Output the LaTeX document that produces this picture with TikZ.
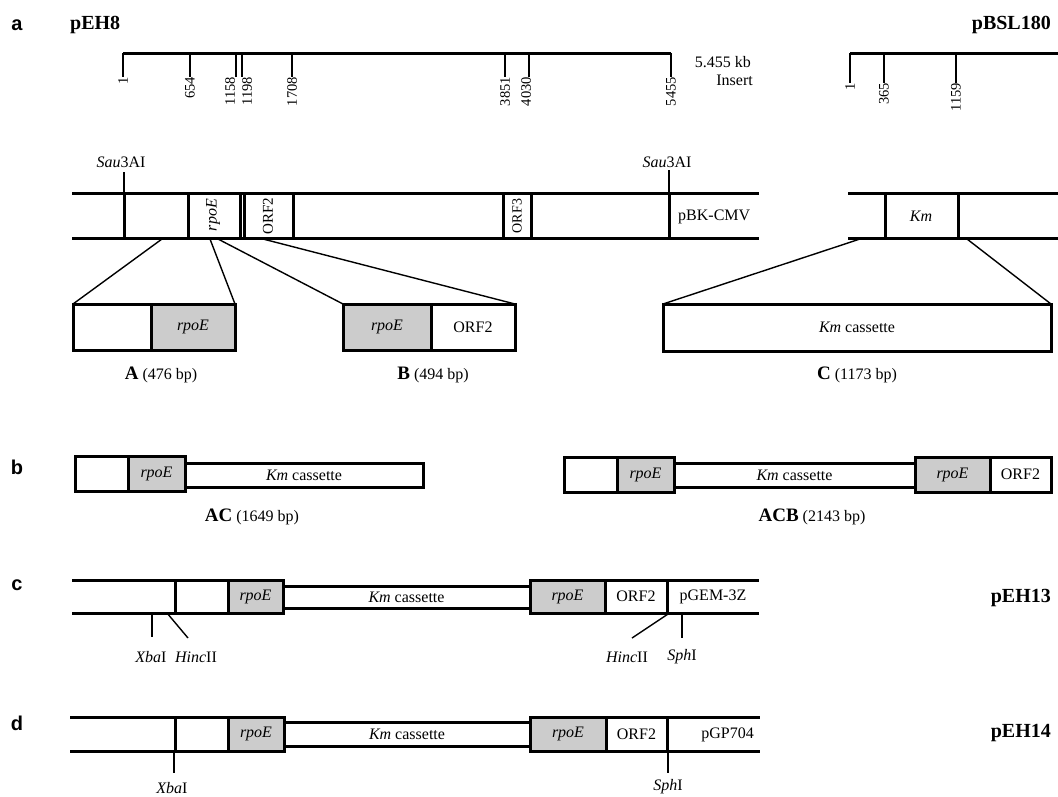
\documentclass[tikz,border=0pt]{standalone}
\usepackage{fontspec}
\setmainfont{Liberation Serif}
\newfontfamily\helvfont{Liberation Sans}
\newcommand\segrect[7]{\node[#6, minimum width={(#4-#2)*1pt}, minimum height={(#5-#3)*1pt}] (#1) at ({(#2+#4)/2},{(#3+#5)/2}) {#7};}
\begin{document}
\begin{tikzpicture}[x=1pt,y=-1pt,
  panel/.style={font=\helvfont\bfseries\fontsize{20}{20}\selectfont, inner sep=0},
  title/.style={font=\bfseries\fontsize{20}{20}\selectfont, inner sep=0},
  lbl/.style={font=\fontsize{16}{18}\selectfont, inner sep=0},
  num/.style={font=\fontsize{14.5}{14.5}\selectfont, inner sep=0, rotate=90, anchor=east},
  strand/.style={line width=3pt},
  tickline/.style={line width=2pt},
  thinline/.style={line width=1.4pt},
  seg/.style={draw, line width=3pt, inner sep=0, outer sep=0, font=\fontsize{16}{18}\selectfont},
  gene/.style={seg, fill=black!20},
]
\fill[white] (0,0) rectangle (1058,796);
\useasboundingbox (0,0) rectangle (1058,796);

% panel letters and titles
\node[panel] (pa) at (17,25) {a};
\node[panel] (pb) at (17,467) {b};
\node[panel] (pc) at (17,585) {c};
\node[panel] (pd) at (17,723) {d};
\node[title, anchor=west] (tEH8) at (70,25) {pEH8};
\node[title, anchor=east] (tBSL) at (1051,25) {pBSL180};
\node[title, anchor=east] (tEH13) at (1051,598) {pEH13};
\node[title, anchor=east] (tEH14) at (1051,733) {pEH14};

% scale bars
\coordinate (s0) at (123,53); \coordinate (s1) at (671,53);
\draw[strand] (s0) -- (s1);
\foreach \x/\lx/\t in {123/123/1, 190/190/654, 236/230/1158, 242/247/1198, 292/292/1708, 505/505/3851, 529/526/4030, 671/671/5455}{
  \draw[tickline] (\x,53) -- (\x,77);
  \node[num] (n\t) at (\lx,77) {\t};
}
\node[lbl, anchor=east] (kb) at (751,62) {5.455 kb};
\node[lbl, anchor=east] (ins) at (753,80) {Insert};
\coordinate (b0) at (850,53); \coordinate (b1) at (1058,53);
\draw[strand] (b0) -- (b1);
\foreach \x/\t in {850/1, 884/365, 956/1159}{
  \draw[tickline] (\x,53) -- (\x,83);
  \node[num] (m\t) at (\x,83) {\t};
}

% pEH8 map row
\draw[strand] (72,193) -- (759,193);
\draw[strand] (72,238) -- (759,238);
\foreach \x in {124,188,240,244,293,503,531,669} \draw[strand] (\x,193) -- (\x,238);
\draw[thinline] (124,172) -- (124,193);
\draw[thinline] (669,170) -- (669,193);
\node[lbl] (sau1) at (121,162) {\textit{Sau}3AI};
\node[lbl] (sau2) at (667,162) {\textit{Sau}3AI};
\node[lbl, rotate=90] (rrot) at (213,215) {\textit{rpoE}};
\node[lbl, rotate=90, font=\fontsize{15}{15}\selectfont] (o2rot) at (268,216) {ORF2};
\node[lbl, rotate=90, font=\fontsize{14}{14}\selectfont] (o3rot) at (517,216) {ORF3};
\node[lbl, anchor=west] (bk) at (678,217) {pBK-CMV};

% pBSL180 map row
\draw[strand] (848,193) -- (1058,193);
\draw[strand] (848,238) -- (1058,238);
\foreach \x in {885,958} \draw[strand] (\x,193) -- (\x,238);
\node[lbl] (km) at (921,216) {\textit{Km}};

% fragments A, B, C
\segrect{A1}{73}{304}{151}{350}{seg}{}
\segrect{A2}{151}{304}{235}{350}{gene}{\textit{rpoE}}
\segrect{B1}{343}{304}{431}{350}{gene}{\textit{rpoE}}
\segrect{B2}{431}{304}{515}{350}{seg}{ORF2}
\segrect{C1}{663}{304}{1051}{351}{seg}{\textit{Km} cassette}
\coordinate (eA1) at (162,239); \coordinate (eA2) at (210,239);
\coordinate (eB1) at (218,239); \coordinate (eB2) at (263,239);
\coordinate (eC1) at (860,239); \coordinate (eC2) at (967,239);
\draw[thinline] (eA1) -- (A1.north west);
\draw[thinline] (eA2) -- (A2.north east);
\draw[thinline] (eB1) -- (B1.north west);
\draw[thinline] (eB2) -- (B2.north east);
\draw[thinline] (eC1) -- (C1.north west);
\draw[thinline] (eC2) -- (C1.north east);
\node[lbl] (lA) at (161,375) {{\fontsize{19}{19}\selectfont\bfseries A} (476 bp)};
\node[lbl] (lB) at (433,375) {{\fontsize{19}{19}\selectfont\bfseries B} (494 bp)};
\node[lbl] (lC) at (857,375) {{\fontsize{19}{19}\selectfont\bfseries C} (1173 bp)};

% panel b
\segrect{AC1}{75}{456}{128}{491}{seg}{}
\segrect{AC2}{128}{456}{185}{491}{gene}{\textit{rpoE}}
\segrect{AC3}{185}{463}{423}{487}{seg}{\textit{Km} cassette}
\node[lbl] (lAC) at (252,517) {{\fontsize{19}{19}\selectfont\bfseries AC} (1649 bp)};
\segrect{ACB1}{564}{457}{617}{492}{seg}{}
\segrect{ACB2}{617}{457}{674}{492}{gene}{\textit{rpoE}}
\segrect{ACB3}{674}{463}{915}{487}{seg}{\textit{Km} cassette}
\segrect{ACB4}{915}{457}{990}{492}{gene}{\textit{rpoE}}
\segrect{ACB5}{990}{457}{1051}{492}{seg}{ORF2}
\node[lbl] (lACB) at (812,517) {{\fontsize{19}{19}\selectfont\bfseries ACB} (2143 bp)};

% panel c
\draw[strand] (72,580) -- (175,580);
\draw[strand] (72,613) -- (175,613);
\segrect{c1}{175}{580}{228}{613}{seg}{}
\segrect{c2}{228}{580}{283}{613}{gene}{\textit{rpoE}}
\segrect{c3}{283}{586}{530}{608}{seg}{\textit{Km} cassette}
\segrect{c4}{530}{580}{605}{613}{gene}{\textit{rpoE}}
\segrect{c5}{605}{580}{667}{613}{seg}{ORF2}
\draw[strand] (667,580) -- (759,580);
\draw[strand] (667,613) -- (759,613);
\node[lbl] (gem) at (713,597) {pGEM-3Z};
\draw[thinline] (152,613) -- (152,637);
\draw[thinline] (167,613) -- (188,638);
\draw[thinline] (668,614) -- (632,638);
\draw[thinline] (682,614) -- (682,638);
\node[lbl] (xba1) at (151,657) {\textit{Xba}I};
\node[lbl] (hinc1) at (196,657) {\textit{Hinc}II};
\node[lbl] (hinc2) at (627,657) {\textit{Hinc}II};
\node[lbl] (sph1) at (682,657) {\textit{Sph}I};

% panel d
\draw[strand] (70,717) -- (175,717);
\draw[strand] (70,751) -- (175,751);
\segrect{d1}{175}{717}{228}{751}{seg}{}
\segrect{d2}{228}{717}{284}{751}{gene}{\textit{rpoE}}
\segrect{d3}{284}{722}{530}{746}{seg}{\textit{Km} cassette}
\segrect{d4}{530}{717}{606}{751}{gene}{\textit{rpoE}}
\segrect{d5}{606}{717}{667}{751}{seg}{ORF2}
\draw[strand] (667,717) -- (760,717);
\draw[strand] (667,751) -- (760,751);
\node[lbl, anchor=east] (gp) at (754,735) {pGP704};
\draw[thinline] (174,751) -- (174,773);
\draw[thinline] (668,751) -- (668,773);
\node[lbl, anchor=south] (xba2) at (172,794) {\textit{Xba}I};
\node[lbl, anchor=south] (sph2) at (668,794) {\textit{Sph}I};
\end{tikzpicture}
\end{document}
